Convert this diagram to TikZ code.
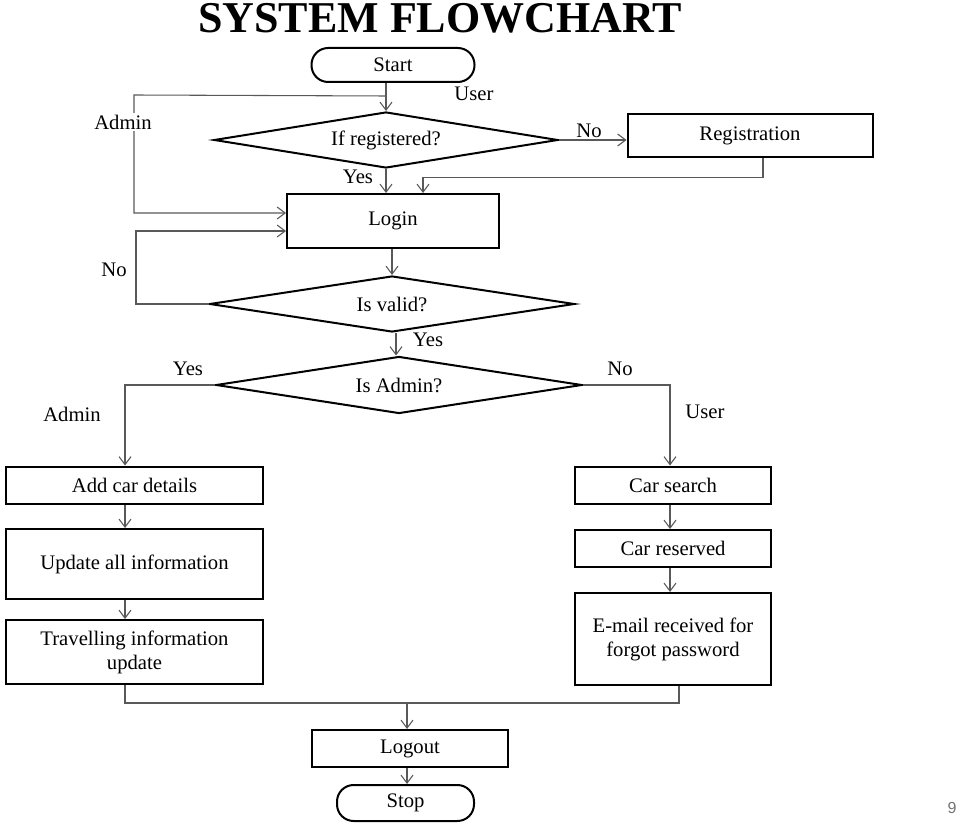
\documentclass[tikz,border=0pt]{standalone}
\usepackage{fontspec}
\setmainfont{Liberation Serif}
\newfontfamily\pagefont{Liberation Sans}
\usetikzlibrary{shapes.geometric,arrows.meta,calc}
\begin{document}
\begin{tikzpicture}[x=0.75pt,y=-0.75pt,
  every node/.style={font=\fontsize{15.5}{18}\selectfont},
  box/.style={draw=black,line width=1.5pt,rectangle,inner sep=2pt,align=center},
  term/.style={box,rounded corners=12.5pt},
  decision/.style={draw=black,line width=1.5pt,diamond,inner sep=0pt,aspect=6},
  conn/.style={draw=black!65,line width=0.8pt},
  arr/.style={conn,-{Straight Barb[length=6pt,width=9pt]}},
  lbl/.style={inner sep=1pt}
]
\useasboundingbox (0,0) rectangle (960,823);

% title
\node[anchor=base,font=\fontsize{33}{36}\selectfont\bfseries] (title) at (440,33) {SYSTEM FLOWCHART};

% nodes
\node[term,minimum width=163*0.75pt,minimum height=34*0.75pt] (start) at (393,65) {Start};
\node[decision,minimum width=344*0.75pt,minimum height=56*0.75pt] (ifreg) at (386,140) {If registered?};
\node[box,minimum width=245*0.75pt,minimum height=43*0.75pt] (reg) at (750,136) {Registration};
\node[box,minimum width=212*0.75pt,minimum height=54*0.75pt] (login) at (393,221) {Login};
\node[decision,minimum width=365*0.75pt,minimum height=56*0.75pt] (valid) at (392,304) {Is valid?};
\node[decision,minimum width=366*0.75pt,minimum height=57*0.75pt] (isadmin) at (399,385) {Is Admin?};

\node[box,minimum width=257*0.75pt,minimum height=37*0.75pt] (addcar) at (134.5,485) {Add car details};
\node[box,minimum width=257*0.75pt,minimum height=70*0.75pt] (update) at (134.5,564) {Update all information};
\node[box,minimum width=257*0.75pt,minimum height=64*0.75pt] (travel) at (134.5,652) {Travelling information\\update};

\node[box,minimum width=196*0.75pt,minimum height=37*0.75pt] (search) at (673,485) {Car search};
\node[box,minimum width=196*0.75pt,minimum height=37*0.75pt] (reserved) at (673,548.5) {Car reserved};
\node[box,minimum width=196*0.75pt,minimum height=92*0.75pt] (email) at (673,639) {E-mail received for\\forgot password};

\node[box,minimum width=196*0.75pt,minimum height=37*0.75pt] (logout) at (410,748.5) {Logout};
\node[term,minimum width=137*0.75pt,minimum height=36*0.75pt] (stop) at (405.5,803) {Stop};

% connectors
\coordinate (ja) at ($(start.south -| ifreg.north)+(0,13)$);
\draw[arr] (start.south -| ifreg.north) -- (ifreg.north);
\draw[arr] (ja) -- (134,95) |- ($(login.west)+(0,-8)$);
\node[lbl,fill=white] (ladmin) at (123,122) {Admin};
\node[lbl] (luser) at (474,94) {User};

\draw[arr] (ifreg.east) -- (ifreg.east -| reg.west);
\node[lbl] (lno1) at (589,131) {No};

\draw[arr] ($(reg.south)+(13,0)$) -- ++(0,19) -| ($(login.north)+(30,0)$);

\draw[arr] (ifreg.south) -- (login.north -| ifreg.south);
\node[lbl] (lyes1) at (358,177) {Yes};

\draw[arr] (login.south -| valid.north) -- (valid.north);

\draw[arr] (valid.west) -- (136,304) |- ($(login.west)+(0,10)$);
\node[lbl] (lno2) at (114,270) {No};

\coordinate (jv) at ($(valid.south)+(4,0)$);
\draw[arr] (jv) -- (jv |- isadmin.north);
\node[lbl] (lyes2) at (428,340) {Yes};

\draw[arr] (isadmin.west) -| ($(addcar.north)+(-9.5,0)$);
\node[lbl] (lyes3) at (188,369) {Yes};
\node[lbl] (ladmin2) at (72,414) {Admin};

\draw[arr] (isadmin.east) -| ($(search.north)+(-3,0)$);
\node[lbl] (lno3) at (620,369) {No};
\node[lbl] (luser2) at (705,412) {User};

\draw[arr] ($(addcar.south)+(-9.5,0)$) -- ($(update.north)+(-9.5,0)$);
\draw[arr] ($(update.south)+(-9.5,0)$) -- ($(travel.north)+(-9.5,0)$);
\draw[arr] ($(search.south)+(-3,0)$) -- ($(reserved.north)+(-3,0)$);
\draw[arr] ($(reserved.south)+(-3,0)$) -- ($(email.north)+(-3,0)$);

\coordinate (jm) at (407,702);
\draw[conn] ($(travel.south)+(-9.5,0)$) -- ++(0,18) -| ($(email.south)+(6,0)$);
\draw[arr] (jm) -- (jm |- logout.north);
\draw[arr] (jm |- logout.south) -- (jm |- stop.north);

% page number
\node[font=\pagefont\fontsize{12}{14}\selectfont,text=black!55] (pnum) at (952,808) {9};
\end{tikzpicture}
\end{document}
